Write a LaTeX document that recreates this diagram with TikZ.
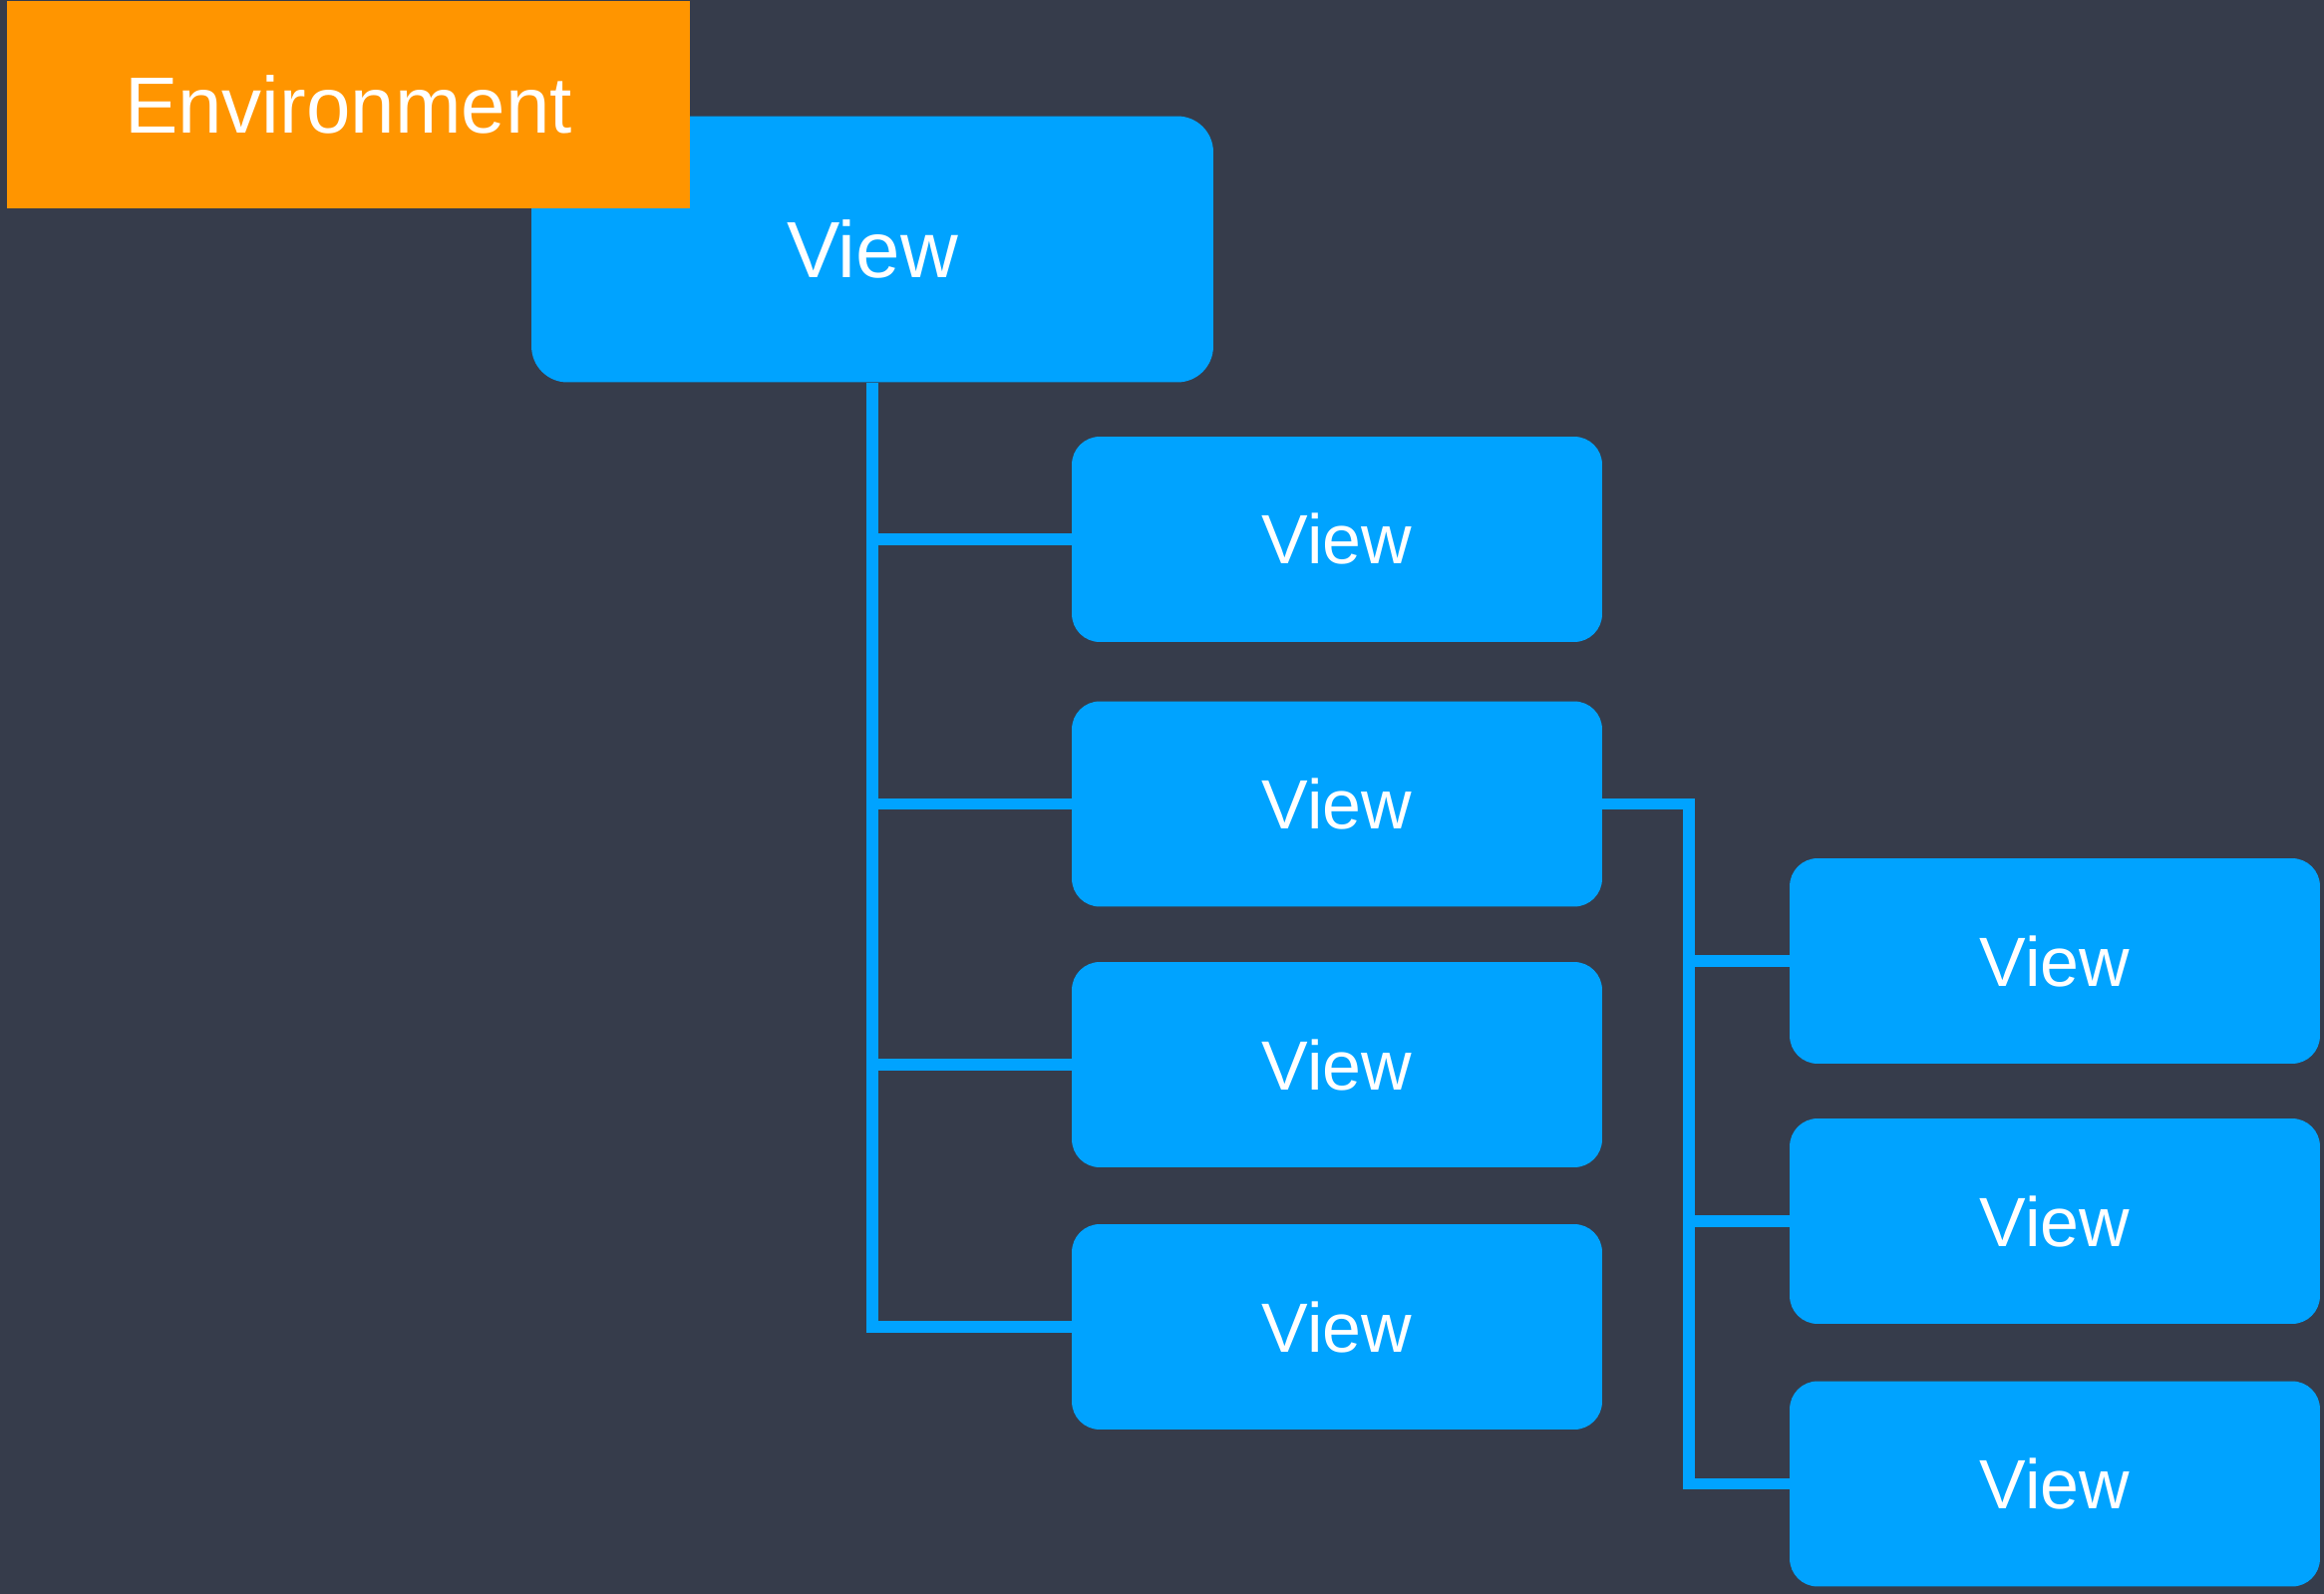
\documentclass[tikz,border=0pt]{standalone}
\usepackage{fontspec}
\setmainfont{Liberation Sans}
\definecolor{bgc}{HTML}{363C4B}
\definecolor{viewblue}{HTML}{00A3FF}
\definecolor{envorange}{HTML}{FF9500}
\tikzset{
  viewbox/.style={fill=viewblue, draw=none, rounded corners=0.56cm, inner sep=0pt,
    text=white, minimum width=10.64cm, minimum height=4.12cm,
    font=\fontsize{39.8pt}{44pt}\selectfont},
  topbox/.style={viewbox, rounded corners=0.72cm, minimum width=13.68cm, minimum height=5.34cm,
    font=\fontsize{45.5pt}{50pt}\selectfont},
  envbox/.style={fill=envorange, draw=none, inner sep=0pt, text=white,
    minimum width=13.7cm, minimum height=4.16cm, font=\fontsize{45.5pt}{50pt}\selectfont},
  link/.style={draw=viewblue, line width=6.3pt, line join=miter, line cap=butt}
}
\begin{document}
\begin{tikzpicture}[x=0.02cm,y=-0.02cm]
\useasboundingbox (0,0) rectangle (2331,1598);
\fill[bgc] (-10,-10) rectangle (2341,1608);
% top view
\node[topbox] (top) at (875,250) {View};
% second column
\node[viewbox] (c1) at (1341,541) {View};
\node[viewbox] (c2) at (1341,806.5) {View};
\node[viewbox] (c3) at (1341,1068) {View};
\node[viewbox] (c4) at (1341,1331) {View};
% third column
\node[viewbox] (d1) at (2061,964) {View};
\node[viewbox] (d2) at (2061,1225) {View};
\node[viewbox] (d3) at (2061,1488.5) {View};
% connectors
\draw[link] (top.south) |- (c4.west);
\draw[link] (top.south |- c1.west) -- (c1.west);
\draw[link] (top.south |- c2.west) -- (c2.west);
\draw[link] (top.south |- c3.west) -- (c3.west);
\coordinate (rt) at (1694,0);
\draw[link] (c2.east) -| (rt |- d3.west) -- (d3.west);
\draw[link] (rt |- d1.west) -- (d1.west);
\draw[link] (rt |- d2.west) -- (d2.west);
% environment
\node[envbox] (env) at (349.5,105) {Environment};
\end{tikzpicture}
\end{document}
